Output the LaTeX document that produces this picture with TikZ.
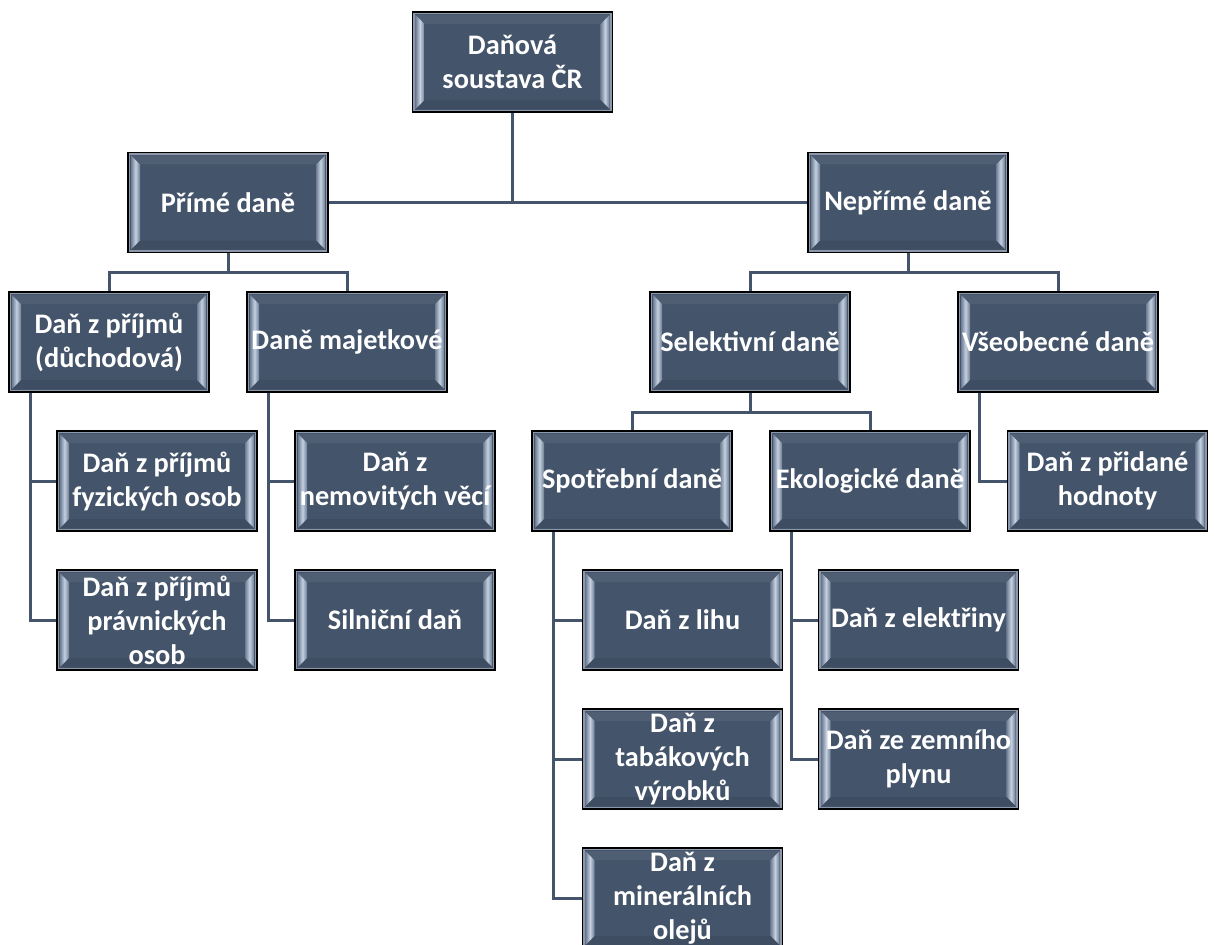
\documentclass[tikz,border=0pt]{standalone}
\usepackage{fontspec}
\setmainfont{Carlito}
\usetikzlibrary{calc}
\definecolor{boxfill}{RGB}{68,84,106}
\definecolor{linecol}{RGB}{68,84,106}
\definecolor{bevlight}{RGB}{196,208,224}
\definecolor{bevdark}{RGB}{110,125,148}
\definecolor{rimcol}{RGB}{140,152,170}
\tikzset{
  taxbox/.style={draw=black, line width=1.2pt, fill=boxfill,
    minimum width=200pt, minimum height=100pt, inner sep=0pt,
    text=white, align=center,
    font=\fontsize{28.3}{34}\selectfont\bfseries,
    path picture={
      \draw[rimcol, line width=1.5pt]
        ([shift={(1.5pt,-1.5pt)}]path picture bounding box.north west) rectangle
        ([shift={(-1.5pt,1.5pt)}]path picture bounding box.south east);
      \fill[left color=bevdark, right color=bevdark, middle color=bevlight]
        ([shift={(3pt,-3pt)}]path picture bounding box.north west) --
        ([shift={(12pt,-12pt)}]path picture bounding box.north west) --
        ([shift={(12pt,12pt)}]path picture bounding box.south west) --
        ([shift={(3pt,3pt)}]path picture bounding box.south west) -- cycle;
      \fill[left color=bevdark, right color=bevdark, middle color=bevlight]
        ([shift={(-3pt,-3pt)}]path picture bounding box.north east) --
        ([shift={(-12pt,-12pt)}]path picture bounding box.north east) --
        ([shift={(-12pt,12pt)}]path picture bounding box.south east) --
        ([shift={(-3pt,3pt)}]path picture bounding box.south east) -- cycle;
      \fill[boxfill!85!white, opacity=0.4]
        ([shift={(3pt,-3pt)}]path picture bounding box.north west) --
        ([shift={(-3pt,-3pt)}]path picture bounding box.north east) --
        ([shift={(-12pt,-12pt)}]path picture bounding box.north east) --
        ([shift={(12pt,-12pt)}]path picture bounding box.north west) -- cycle;
      \fill[boxfill!80!black, opacity=0.4]
        ([shift={(3pt,3pt)}]path picture bounding box.south west) --
        ([shift={(-3pt,3pt)}]path picture bounding box.south east) --
        ([shift={(-12pt,12pt)}]path picture bounding box.south east) --
        ([shift={(12pt,12pt)}]path picture bounding box.south west) -- cycle;
    }},
  conn/.style={draw=linecol, line width=3pt}
}
\begin{document}
\begin{tikzpicture}[x=1pt,y=-1pt]
\useasboundingbox[fill=white] (0,0) rectangle (1214,944);
% nodes
\node[taxbox] (root) at (512.5,62) {Daňová\\soustava ČR};
\node[taxbox] (pri) at (228,202.5) {Přímé daně};
\node[taxbox] (nep) at (908,202.5) {Nepřímé daně};
\node[taxbox] (dp) at (109,342) {Daň z příjmů\\(důchodová)};
\node[taxbox] (dm) at (347,342) {Daně majetkové};
\node[taxbox] (fo) at (157,481) {Daň z příjmů\\fyzických osob};
\node[taxbox] (po) at (157,620) {Daň z příjmů\\právnických\\osob};
\node[taxbox] (nv) at (395,481) {Daň z\\nemovitých věcí};
\node[taxbox] (sd) at (395,620) {Silniční daň};
\node[taxbox] (sel) at (750,342) {Selektivní daně};
\node[taxbox] (vse) at (1058,342) {Všeobecné daně};
\node[taxbox] (dph) at (1107.5,481) {Daň z přidané\\hodnoty};
\node[taxbox] (spo) at (632,481) {Spotřební daně};
\node[taxbox] (eko) at (870,481) {Ekologické daně};
\node[taxbox] (lih) at (682.5,620) {Daň z lihu};
\node[taxbox] (tab) at (682.5,759) {Daň z\\tabákových\\výrobků};
\node[taxbox] (min) at (682.5,898) {Daň z\\minerálních\\olejů};
\node[taxbox] (ele) at (918.5,620) {Daň z elektřiny};
\node[taxbox] (zem) at (918.5,759) {Daň ze zemního\\plynu};
% connectors
\path[conn] (root.south) -- (root.south |- pri.east);
\path[conn] (pri.east) -- (nep.west);
\path[conn] (pri.south) -- +(0,19.5) -| (dp.north);
\path[conn] (pri.south) -- +(0,19.5) -| (dm.north);
\path[conn] (nep.south) -- +(0,19.5) -| (sel.north);
\path[conn] (nep.south) -- +(0,19.5) -| (vse.north);
\path[conn] (sel.south) -- +(0,19.5) -| (spo.north);
\path[conn] (sel.south) -- +(0,19.5) -| (eko.north);
\path[conn] ([xshift=22pt]dp.south west) |- (fo.west);
\path[conn] ([xshift=22pt]dp.south west) |- (po.west);
\path[conn] ([xshift=22pt]dm.south west) |- (nv.west);
\path[conn] ([xshift=22pt]dm.south west) |- (sd.west);
\path[conn] ([xshift=22pt]vse.south west) |- (dph.west);
\path[conn] ([xshift=22pt]spo.south west) |- (lih.west);
\path[conn] ([xshift=22pt]spo.south west) |- (tab.west);
\path[conn] ([xshift=22pt]spo.south west) |- (min.west);
\path[conn] ([xshift=22pt]eko.south west) |- (ele.west);
\path[conn] ([xshift=22pt]eko.south west) |- (zem.west);
\end{tikzpicture}
\end{document}
